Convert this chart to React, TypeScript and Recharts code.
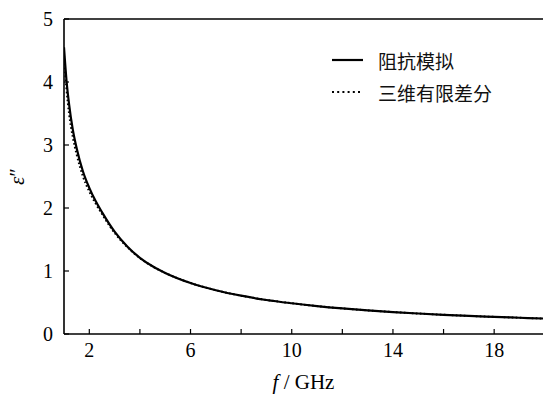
import React from 'react';
import { LineChart, Line, XAxis, YAxis, ReferenceLine, Label } from 'recharts';

// frequency in GHz
const freq = [1, 1.1, 1.2, 1.35, 1.5, 1.75, 2, 2.25, 2.5, 3, 3.5, 4, 4.5, 5, 6, 7, 8, 9, 10, 11, 12, 13, 14, 15, 16, 17, 18, 19, 20];
// impedance simulation (solid)
const impedance = [4.55, 4.02, 3.65, 3.24, 2.95, 2.58, 2.32, 2.11, 1.935, 1.625, 1.39, 1.21, 1.075, 0.97, 0.81, 0.695, 0.608, 0.54, 0.488, 0.443, 0.406, 0.375, 0.348, 0.325, 0.305, 0.287, 0.272, 0.258, 0.245];
// 3D finite difference (dotted)
const fdtd = [4.42, 3.88, 3.5, 3.12, 2.85, 2.5, 2.26, 2.07, 1.905, 1.605, 1.38, 1.205, 1.073, 0.97, 0.81, 0.695, 0.608, 0.54, 0.488, 0.443, 0.406, 0.375, 0.348, 0.325, 0.305, 0.287, 0.272, 0.258, 0.245];

const xTicks = [2, 4, 6, 8, 10, 12, 14, 16, 18];
const yTicks = [0, 1, 2, 3, 4, 5];
const seriesNames = ['阻抗模拟', '三维有限差分'];

const data = freq.map((f, i) => ({ f, a: impedance[i], b: fdtd[i] }));

const serif = "'Liberation Serif', serif";
const cjk = "'Noto Sans CJK SC', sans-serif";

const XTick = (props: any) => {
  const { x, y, payload } = props;
  const v = payload.value;
  const showLabel = (v - 2) % 4 === 0;
  return (
    <g>
      <line x1={x} x2={x} y1={y} y2={y - 5} stroke="#000" strokeWidth={1.2} />
      {showLabel && (
        <text x={x} y={y + 23} textAnchor="middle" fontFamily={serif} fontSize={20} fill="#000">
          {v}
        </text>
      )}
    </g>
  );
};

const YTick = (props: any) => {
  const { x, y, payload } = props;
  return (
    <g>
      <line x1={x} x2={x + 5} y1={y} y2={y} stroke="#000" strokeWidth={1.2} />
      <text x={x - 11} y={y + 6.5} textAnchor="end" fontFamily={serif} fontSize={20} fill="#000">
        {payload.value}
      </text>
    </g>
  );
};

const LegendBox = () => (
  <div style={{ position: 'absolute', left: 330, top: 44, fontFamily: cjk, fontSize: 19, color: '#111' }}>
    <div style={{ display: 'flex', alignItems: 'center', height: 32 }}>
      <svg width={48} height={10}>
        <line x1={2} x2={33} y1={5} y2={5} stroke="#000" strokeWidth={2.2} />
      </svg>
      <span>{seriesNames[0]}</span>
    </div>
    <div style={{ display: 'flex', alignItems: 'center', height: 32 }}>
      <svg width={48} height={10}>
        <line x1={2} x2={33} y1={5} y2={5} stroke="#000" strokeWidth={2} strokeDasharray="2 3.2" />
      </svg>
      <span>{seriesNames[1]}</span>
    </div>
  </div>
);

const XTitle = (props: any) => {
  const { viewBox } = props;
  const cx = viewBox.x + viewBox.width / 2;
  return (
    <text x={cx} y={389} textAnchor="middle" fontFamily={serif} fontSize={21} fill="#000">
      <tspan fontStyle="italic">f</tspan>
      <tspan> / GHz</tspan>
    </text>
  );
};

const YTitle = (props: any) => {
  const { viewBox } = props;
  const cy = viewBox.y + viewBox.height / 2;
  return (
    <text x={24} y={cy} transform={`rotate(-90 24 ${cy})`} textAnchor="middle" fontFamily={serif} fontSize={21} fill="#000">
      <tspan fontStyle="italic">ε</tspan>
      <tspan>″</tspan>
    </text>
  );
};

export default function App() {
  return (
    <div style={{ position: 'absolute', left: 0, top: 0, width: 543, height: 394, background: '#fff' }}>
      <LineChart width={543} height={394} data={data} margin={{ top: 19, right: 0, bottom: 0, left: 0 }}>
        <XAxis
          dataKey="f"
          type="number"
          domain={[1, 19.93]}
          allowDataOverflow
          ticks={xTicks}
          interval={0}
          height={60}
          tickSize={0}
          tickMargin={0}
          tickLine={false}
          tick={<XTick />}
          axisLine={{ stroke: '#000', strokeWidth: 1.6 }}
        >
          <Label content={<XTitle />} />
        </XAxis>
        <YAxis
          type="number"
          domain={[0, 5]}
          ticks={yTicks}
          interval={0}
          width={64}
          tickSize={0}
          tickMargin={0}
          tickLine={false}
          tick={<YTick />}
          axisLine={{ stroke: '#000', strokeWidth: 1.6 }}
        >
          <Label content={<YTitle />} />
        </YAxis>
        <ReferenceLine y={5} stroke="#000" strokeWidth={1.6} />
        <Line
          type="monotone"
          dataKey="b"
          stroke="#000"
          strokeWidth={2}
          strokeDasharray="1.6 2.4"
          dot={false}
          activeDot={false}
          isAnimationActive={false}
        />
        <Line
          type="monotone"
          dataKey="a"
          stroke="#000"
          strokeWidth={2.2}
          dot={false}
          activeDot={false}
          isAnimationActive={false}
        />
      </LineChart>
      <LegendBox />
    </div>
  );
}
